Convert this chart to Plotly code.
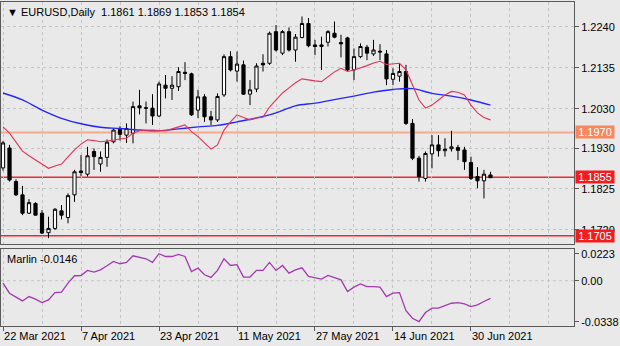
import plotly.graph_objects as go

# --- EURUSD daily bars (bar index 0 = 22 Mar 2021) ---
opens = [1.1879, 1.1930, 1.1844, 1.1810, 1.1763, 1.1788, 1.1763, 1.1713, 1.1724, 1.1769,
         1.1752, 1.1810, 1.1871, 1.1863, 1.1921, 1.1889, 1.1906, 1.1946, 1.1978, 1.1963,
         1.1968, 1.2038, 1.2033, 1.2032, 1.2012, 1.2091, 1.2083, 1.2087, 1.2124, 1.2120,
         1.2027, 1.2061, 1.2010, 1.2002, 1.2066, 1.2164, 1.2127, 1.2143, 1.2068, 1.2081,
         1.2147, 1.2147, 1.2228, 1.2173, 1.2228, 1.2181, 1.2213, 1.2249, 1.2194, 1.2194,
         1.2201, 1.2224, 1.2200, 1.2212, 1.2130, 1.2164, 1.2188, 1.2171, 1.2178, 1.2171,
         1.2106, 1.2114, 1.2126, 1.1993, 1.1904, 1.1852, 1.1915, 1.1938, 1.1923, 1.1928,
         1.1931, 1.1925, 1.1893, 1.1857, 1.1846, 1.1861]
highs = [1.1948, 1.1938, 1.1850, 1.1833, 1.1799, 1.1791, 1.1771, 1.1754, 1.1776, 1.1784,
         1.1814, 1.1874, 1.1912, 1.1933, 1.1929, 1.1921, 1.1952, 1.1980, 1.1986, 1.1993,
         1.2049, 1.2079, 1.2049, 1.2068, 1.2100, 1.2117, 1.2114, 1.2137, 1.2150, 1.2123,
         1.2079, 1.2068, 1.2025, 1.2070, 1.2170, 1.2178, 1.2177, 1.2154, 1.2104, 1.2147,
         1.2170, 1.2228, 1.2245, 1.2232, 1.2239, 1.2222, 1.2267, 1.2263, 1.2207, 1.2215,
         1.2232, 1.2254, 1.2220, 1.2215, 1.2185, 1.2198, 1.2194, 1.2207, 1.2196, 1.2181,
         1.2134, 1.2147, 1.2143, 1.2004, 1.1910, 1.1921, 1.1963, 1.1963, 1.1955, 1.1974,
         1.1938, 1.1933, 1.1908, 1.1881, 1.1874, 1.1869]
lows = [1.1872, 1.1844, 1.1807, 1.1758, 1.1761, 1.1757, 1.1710, 1.1699, 1.1720, 1.1747,
        1.1737, 1.1792, 1.1858, 1.1857, 1.1874, 1.1869, 1.1882, 1.1942, 1.1949, 1.1943,
        1.1942, 1.2016, 1.1993, 1.1989, 1.2010, 1.2057, 1.2053, 1.2076, 1.2104, 1.2012,
        1.2007, 1.1997, 1.1989, 1.1997, 1.2061, 1.2126, 1.2100, 1.2066, 1.2040, 1.2073,
        1.2126, 1.2143, 1.2177, 1.2168, 1.2177, 1.2151, 1.2211, 1.2188, 1.2168, 1.2130,
        1.2190, 1.2211, 1.2162, 1.2126, 1.2104, 1.2160, 1.2155, 1.2166, 1.2155, 1.2091,
        1.2091, 1.2100, 1.1989, 1.1899, 1.1844, 1.1844, 1.1878, 1.1908, 1.1908, 1.1921,
        1.1899, 1.1874, 1.1848, 1.1827, 1.1801, 1.1853]
closes = [1.1943, 1.1848, 1.1810, 1.1763, 1.1790, 1.1758, 1.1712, 1.1724, 1.1773, 1.1758,
          1.1808, 1.1869, 1.1867, 1.1910, 1.1908, 1.1906, 1.1945, 1.1976, 1.1965, 1.1980,
          1.2036, 1.2033, 1.2032, 1.2012, 1.2094, 1.2083, 1.2091, 1.2126, 1.2121, 1.2015,
          1.2061, 1.2010, 1.2002, 1.2062, 1.2164, 1.2130, 1.2145, 1.2068, 1.2079, 1.2140,
          1.2143, 1.2224, 1.2181, 1.2228, 1.2181, 1.2214, 1.2249, 1.2192, 1.2190, 1.2190,
          1.2228, 1.2214, 1.2197, 1.2130, 1.2164, 1.2190, 1.2173, 1.2181, 1.2176, 1.2107,
          1.2121, 1.2126, 1.1993, 1.1904, 1.1857, 1.1916, 1.1938, 1.1923, 1.1927, 1.1933,
          1.1924, 1.1895, 1.1852, 1.1846, 1.1863, 1.1854]

# fast moving average (red), one value per bar
ma_fast = [1.1984, 1.1968, 1.1945, 1.1922, 1.1910, 1.1899, 1.1888, 1.1878, 1.1884, 1.1889,
           1.1907, 1.1925, 1.1940, 1.1951, 1.1949, 1.1946, 1.1948, 1.1951, 1.1953, 1.1955,
           1.1968, 1.1974, 1.1975, 1.1976, 1.1975, 1.1974, 1.1979, 1.1984, 1.1989, 1.1972,
           1.1959, 1.1943, 1.1927, 1.1938, 1.1976, 1.1997, 1.2015, 1.2008, 1.2002, 1.2007,
           1.2009, 1.2035, 1.2053, 1.2071, 1.2084, 1.2097, 1.2107, 1.2104, 1.2102, 1.2100,
           1.2112, 1.2125, 1.2134, 1.2126, 1.2130, 1.2135, 1.2141, 1.2148, 1.2152, 1.2144,
           1.2145, 1.2147, 1.2130, 1.2091, 1.2053, 1.2032, 1.2040, 1.2053, 1.2066, 1.2075,
           1.2073, 1.2066, 1.2040, 1.2020, 1.2008, 1.2002]

# slow moving average (blue), sampled every third bar
ma_slow_bars = [0, 3, 6, 9, 12, 15, 18, 21, 24, 27, 30, 33, 36, 39, 42, 45, 48, 51, 54, 57,
                60, 63, 66, 69, 72, 75]
ma_slow = [1.2071, 1.2053, 1.2027, 1.2006, 1.1992, 1.1983, 1.1980, 1.1976, 1.1974, 1.1979,
           1.1984, 1.1988, 1.1997, 1.2007, 1.2020, 1.2038, 1.2045, 1.2054, 1.2063, 1.2073,
           1.2080, 1.2082, 1.2070, 1.2063, 1.2053, 1.2040]

# Marlin oscillator, one value per bar
marlin = [-0.0020, -0.0103, -0.0136, -0.0167, -0.0131, -0.0152, -0.0181, -0.0158, -0.0098, -0.0094,
          -0.0020, 0.0041, 0.0043, 0.0085, 0.0071, 0.0090, 0.0123, 0.0159, 0.0140, 0.0151,
          0.0206, 0.0192, 0.0181, 0.0151, 0.0223, 0.0200, 0.0200, 0.0217, 0.0200, 0.0076,
          0.0104, 0.0049, 0.0027, 0.0085, 0.0181, 0.0126, 0.0132, 0.0030, 0.0030, 0.0085,
          0.0085, 0.0151, 0.0085, 0.0126, 0.0063, 0.0090, 0.0106, 0.0035, 0.0027, 0.0013,
          0.0043, 0.0022, 0.0007, -0.0089, -0.0053, -0.0026, -0.0048, -0.0048, -0.0053, -0.0131,
          -0.0103, -0.0098, -0.0247, -0.0310, -0.0338, -0.0263, -0.0227, -0.0227, -0.0205, -0.0186,
          -0.0181, -0.0191, -0.0214, -0.0200, -0.0172, -0.0146]

# horizontal levels and their label colours
levels = [1.1970, 1.1855, 1.1705]
level_line_colors = ["#F6A98C", "#F02828", "#F02828"]
level_box_colors = ["#F7875C", "#F21C1C", "#F21C1C"]

# axis ticks
date_ticks = [0, 12, 24, 36, 48, 60, 72]
date_labels = ["22 Mar 2021", "7 Apr 2021", "23 Apr 2021", "11 May 2021",
               "27 May 2021", "14 Jun 2021", "30 Jun 2021"]
price_ticks = [1.2240, 1.2135, 1.2030, 1.1930, 1.1825, 1.1720]
marlin_ticks = [0.0223, 0.0, -0.0338]
marlin_labels = ["0.0223", "0.00", "-0.0338"]

bars = list(range(len(closes)))
FONT = "Liberation Sans, Arial, sans-serif"
BG = "#E9E9E9"
FRAME = "#5A5A5A"
GRID = "#C4C4C4"

fig = go.Figure()

fig.add_trace(go.Candlestick(
    x=bars, open=opens, high=highs, low=lows, close=closes,
    increasing=dict(line=dict(color="black", width=1), fillcolor="white"),
    decreasing=dict(line=dict(color="black", width=1), fillcolor="black"),
    whiskerwidth=0, xaxis="x", yaxis="y", showlegend=False,
))
fig.add_trace(go.Scatter(x=ma_slow_bars, y=ma_slow, mode="lines",
                         line=dict(color="#2727F5", width=1.4, shape="spline"),
                         xaxis="x", yaxis="y", showlegend=False))
fig.add_trace(go.Scatter(x=bars, y=ma_fast, mode="lines",
                         line=dict(color="#E33358", width=1.1),
                         xaxis="x", yaxis="y", showlegend=False))
fig.add_trace(go.Scatter(x=bars, y=marlin, mode="lines",
                         line=dict(color="#A23AAE", width=1.3),
                         xaxis="x2", yaxis="y2", showlegend=False))

X_RANGE = [-0.31, 87.85]

shapes = []
for lv, col in zip(levels, level_line_colors):
    shapes.append(dict(type="line", xref="x domain", yref="y", x0=0, x1=1, y0=lv, y1=lv,
                       line=dict(color=col, width=2 if lv == 1.1970 else 1.5), layer="below"))
shapes.append(dict(type="line", xref="x2 domain", yref="y2", x0=0, x1=1, y0=0, y1=0,
                   line=dict(color=GRID, width=1, dash="dot"), layer="below"))

annotations = [
    dict(text="▼ EURUSD,Daily  1.1861 1.1869 1.1853 1.1854", xref="paper", yref="paper",
         x=0, y=1, xanchor="left", yanchor="top", xshift=4, yshift=-2, showarrow=False,
         font=dict(family=FONT, size=11, color="black")),
    dict(text="Marlin -0.0146", xref="paper", yref="y2 domain",
         x=0, y=1, xanchor="left", yanchor="top", xshift=4, yshift=-2, showarrow=False,
         font=dict(family=FONT, size=11, color="black")),
]
for lv, col in zip(levels, level_box_colors):
    annotations.append(dict(text=f"{lv:.4f}", xref="paper", yref="y", x=1, y=lv,
                            xanchor="left", yanchor="middle", xshift=1, showarrow=False,
                            bgcolor=col, width=38, height=12, borderpad=0,
                            font=dict(family=FONT, size=11, color="white")))

common_x = dict(range=X_RANGE, showline=True, mirror=True, linecolor=FRAME, linewidth=1,
                showgrid=True, gridcolor=GRID, griddash="dot", zeroline=False,
                tickmode="array", tickvals=date_ticks, fixedrange=True,
                minor=dict(tick0=0, dtick=6, showgrid=True, gridcolor=GRID, griddash="dot"))

fig.update_layout(
    width=620, height=346,
    margin=dict(l=1, r=46, t=2, b=20),
    paper_bgcolor=BG, plot_bgcolor=BG,
    showlegend=False,
    font=dict(family=FONT, size=11, color="black"),
    xaxis=dict(**common_x, anchor="y", showticklabels=False, ticks="",
               rangeslider=dict(visible=False)),
    xaxis2=dict(**common_x, anchor="y2", matches="x", ticktext=date_labels,
                ticks="outside", ticklen=4, tickcolor=FRAME,
                ticklabelposition="outside right",
                tickfont=dict(family=FONT, size=11, color="black")),
    yaxis=dict(domain=[0.2531, 1], range=[1.16841, 1.23040], side="right",
               showline=True, mirror=True, linecolor=FRAME, linewidth=1,
               showgrid=True, gridcolor=GRID, griddash="dot", zeroline=False,
               tickmode="array", tickvals=price_ticks,
               ticktext=[f"{v:.4f}" for v in price_ticks],
               ticks="outside", ticklen=4, tickcolor=FRAME,
               tickfont=dict(family=FONT, size=11, color="black")),
    yaxis2=dict(domain=[0, 0.2377], range=[-0.0374, 0.0262], side="right",
                showline=True, mirror=True, linecolor=FRAME, linewidth=1,
                showgrid=False, zeroline=False,
                tickmode="array", tickvals=marlin_ticks, ticktext=marlin_labels,
                ticks="outside", ticklen=4, tickcolor=FRAME,
                tickfont=dict(family=FONT, size=11, color="black")),
    shapes=shapes,
    annotations=annotations,
)

fig.write_html("out.html")
